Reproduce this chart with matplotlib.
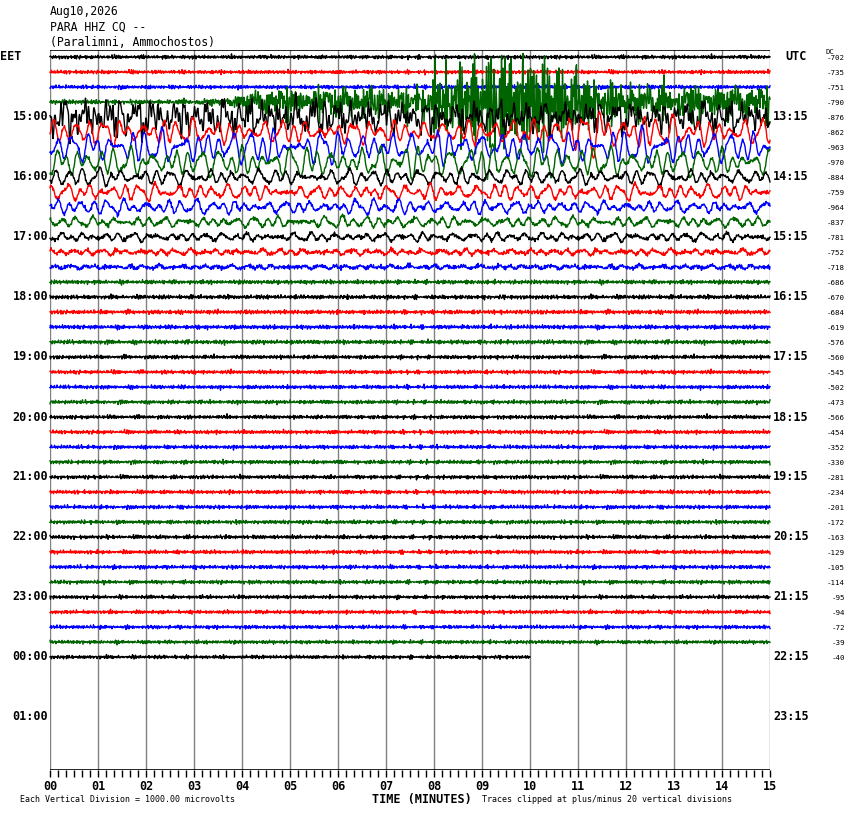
import numpy as np
import matplotlib
matplotlib.use("Agg")
import matplotlib.pyplot as plt

# helicorder: 15 min per line, 4 lines per hour, starting 14:00 EET
header = ["Aug10,2026", "PARA HHZ CQ --", "(Paralimni, Ammochostos)"]
left_hours = ["15:00", "16:00", "17:00", "18:00", "19:00", "20:00",
              "21:00", "22:00", "23:00", "00:00", "01:00"]
right_hours = ["13:15", "14:15", "15:15", "16:15", "17:15", "18:15",
               "19:15", "20:15", "21:15", "22:15", "23:15"]
dc_offsets = [-702, -735, -751, -790, -876, -862, -963, -970, -884, -759,
              -964, -837, -781, -752, -718, -686, -670, -684, -619, -576,
              -560, -545, -502, -473, -566, -454, -352, -330, -281, -234,
              -201, -172, -163, -129, -105, -114, -95, -94, -72, -39, -40]
minute_labels = ["%02d" % m for m in range(16)]
last_line_minutes = 10.0

trace_colors = ["black", "#ff0000", "#0000ff", "#006400"]

# background noise amplitude of every line (pixels, peak)
noise_px = [2.0, 2.0, 2.0, 1.8, 2.0, 2.0, 2.0, 2.0, 2.0, 2.0,
            2.0, 2.0, 2.0, 2.2, 2.2, 2.2, 2.2, 2.2, 2.2, 2.2,
            2.0, 2.0, 2.0, 2.0, 2.0, 2.0, 2.0, 2.0, 2.0, 2.0,
            2.0, 2.0, 2.0, 2.0, 2.0, 2.0, 1.9, 1.9, 1.9, 1.9, 1.9]

# short period burst envelope per minute (pixels) for the event lines
burst_px = {
    3: [1.8, 1.8, 1.8, 3, 14, 15, 15, 15, 42, 56, 44, 22, 17, 17, 16],
    4: [15, 15, 14, 13, 13, 14, 12, 11, 11, 11, 11, 11, 11, 11, 11],
}
# long period wave envelope per minute (pixels)
wave_px = {
    3: [0, 0, 0, 2, 6, 7, 7, 7, 8, 10, 9, 8, 8, 8, 8],
    4: [14, 14, 14, 13, 13, 14, 13, 12, 12, 12, 12, 12, 12, 12, 12],
    5: [14, 14, 14, 13, 12, 12, 12, 12, 12, 14, 15, 26, 18, 15, 14],
    6: [15, 18, 18, 18, 18, 18, 15, 15, 18, 15, 18, 18, 20, 18, 15],
    7: [15, 15, 15, 15, 18, 15, 15, 18, 18, 18, 18, 15, 15, 15, 15],
    8: [11, 9, 8, 8, 8, 6, 9, 9, 8, 9, 8, 8, 8, 8, 6],
    9: [9, 9, 9, 8, 8, 6, 8, 8, 8, 9, 8, 8, 9, 8, 8],
    10: [9, 8, 8, 8, 6, 6, 9, 8, 6, 8, 6, 6, 6, 6, 6],
    11: [6, 5, 5, 5, 6, 6, 7, 6, 5, 5, 6, 5, 5, 6, 5],
    12: [4.5, 4.5, 4.5, 4, 4, 4.5, 4, 4.5, 4.5, 4.5, 4.5, 4.5, 4.5, 4.5, 4.5],
    13: [3, 3, 3, 3, 3, 3, 3, 3, 3, 3, 3, 3, 3, 3, 3],
    14: [2, 2, 2, 2, 2, 2, 2, 2, 2, 2, 2, 2, 2, 2, 2],
}

W, H = 850, 814
L, R, T, B = 50, 770, 50, 770
spacing = 15.0  # pixels between lines


def fx(x):
    return x / W


def fy(y):
    return 1 - y / H


def carrier(t, freqs, k):
    s = np.zeros_like(t)
    for j, f in enumerate(freqs):
        ph = (k * 2.39996 * (j + 1) + j * j * 0.7) % (2 * np.pi)
        s += np.sin(2 * np.pi * f * t + ph)
    return s / np.sqrt(len(freqs) / 2) * 0.45


fig = plt.figure(figsize=(W / 100, H / 100), dpi=100)
ax = fig.add_axes([fx(L), fy(B), (R - L) / W, (B - T) / H])
ax.set_xlim(0, 15)
ax.set_ylim((B - T - 7) / spacing, -7 / spacing)
for s in ax.spines.values():
    s.set_visible(False)
ax.set_yticks([])

ax.vlines(range(0, 16), -1, 100, colors="#808080", lw=1.0, zorder=1)
ax.axhline(-7 / spacing, color="black", lw=1.2, zorder=3)
ax.axhline((B - T - 7) / spacing, color="black", lw=1.2, zorder=3)

t = np.linspace(0, 15, 15 * 96 + 1)
mids = np.arange(15) + 0.5
hf_f = [12.7, 14.3, 16.9, 18.1, 19.7, 21.4, 23.3, 25.1, 26.8, 28.9, 30.2,
        31.7, 33.6, 35.3, 37.4, 39.1, 40.8, 42.6, 44.2, 46.3, 47.5]
mid_f = [6.1, 7.3, 8.6, 9.8, 11.2, 12.9, 14.1, 15.8, 17.3, 19.4]
lp_f = [2.1, 2.7, 3.3, 3.8, 4.4, 5.2]
for i, dc in enumerate(dc_offsets):
    y = noise_px[i] * carrier(t, hf_f, i)
    if i in burst_px:
        env = np.interp(t, mids, burst_px[i])
        band = hf_f[2:12] if i == 3 else mid_f
        y = y + env * carrier(t, band, i + 70)
    if i in wave_px:
        env = np.interp(t, mids, wave_px[i])
        y = y + env * carrier(t, lp_f, i + 50)
    y = np.clip(y, -20 * spacing, 20 * spacing)
    n = len(t) if i < len(dc_offsets) - 1 else int(last_line_minutes * 96) + 1
    ax.plot(t[:n], i - y[:n] / spacing, color=trace_colors[i % 4], lw=1.0,
            zorder=2, clip_on=False)

# bottom axis with ticks every 10 s
ax.set_xticks(range(16))
ax.set_xticklabels(minute_labels, fontfamily="DejaVu Sans Mono",
                   fontweight="bold", fontsize=8.5)
ax.set_xticks(np.arange(0, 15.01, 1 / 6), minor=True)
ax.tick_params(axis="x", which="both", direction="out", length=5, width=1,
               color="black", pad=2)

mono = "DejaVu Sans Mono"
for k, line in enumerate(header):
    fig.text(fx(50), fy(12 + 15 * k), line, family=mono, fontsize=8.3,
             va="center", ha="left")
fig.text(fx(0), fy(57), "EET", family=mono, fontsize=8.5, fontweight="bold",
         va="center", ha="left")
fig.text(fx(785), fy(57), "UTC", family=mono, fontsize=8.5, fontweight="bold",
         va="center", ha="left")
fig.text(fx(826), fy(52), "DC", family=mono, fontsize=5.2, va="center",
         ha="left")
for k, (lh, rh) in enumerate(zip(left_hours, right_hours)):
    yy = 57 + spacing * 4 * (k + 1)
    fig.text(fx(48), fy(yy), lh, family=mono, fontsize=8.5,
             fontweight="bold", va="center", ha="right")
    fig.text(fx(773), fy(yy), rh, family=mono, fontsize=8.5,
             fontweight="bold", va="center", ha="left")
for k, dc in enumerate(dc_offsets):
    fig.text(fx(845), fy(58 + spacing * k), str(dc), family=mono,
             fontsize=5.4, va="center", ha="right")

fig.text(fx(422), fy(799), "TIME (MINUTES)", family=mono, fontsize=8.5,
         fontweight="bold", va="center", ha="center")
fig.text(fx(20), fy(800), "Each Vertical Division = 1000.00 microvolts",
         family=mono, fontsize=6, va="center", ha="left")
fig.text(fx(482), fy(800), "Traces clipped at plus/minus 20 vertical divisions",
         family=mono, fontsize=6, va="center", ha="left")

fig.savefig("out.png", dpi=100)
